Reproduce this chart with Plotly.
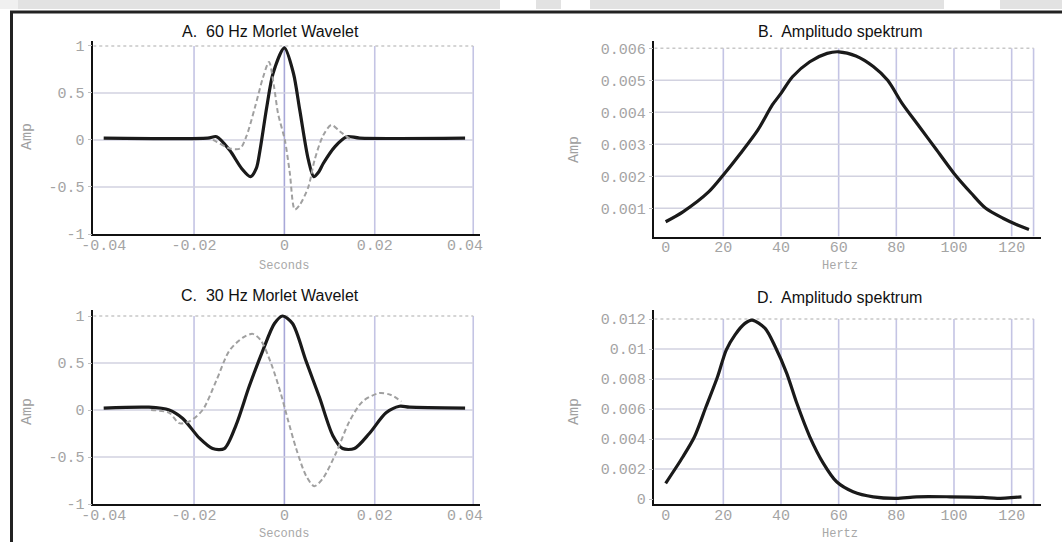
import plotly.graph_objects as go

W, H = 1062, 542

# ---------------- data ----------------
# A: 60 Hz Morlet wavelet (real = solid, imaginary = dashed)
a_real_t = [-0.040, -0.017, -0.0150, -0.0121, -0.0095, -0.0075, -0.0062, -0.0054, -0.0039, -0.0025,
            0.0, 0.0020, 0.0034, 0.0053, 0.0065, 0.0076, 0.0086, 0.0112, 0.0138, 0.0167, 0.040]
a_real_v = [0.02, 0.02, 0.035, -0.11, -0.30, -0.39, -0.30, -0.11, 0.35, 0.71,
            0.98, 0.71, 0.32, -0.21, -0.39, -0.34, -0.25, -0.07, 0.035, 0.02, 0.02]
a_imag_t = [-0.0158, -0.0150, -0.0121, -0.0098, -0.0084, -0.0065, -0.0047, -0.0034, -0.0023, -0.0014,
            0.0001, 0.0012, 0.0023, 0.0034, 0.0053, 0.0067, 0.0086, 0.0104, 0.0123, 0.0148]
a_imag_v = [0.0, -0.02, -0.09, -0.09, 0.04, 0.35, 0.67, 0.83, 0.57, 0.28,
            0.0, -0.35, -0.74, -0.69, -0.50, -0.21, 0.05, 0.16, 0.09, 0.0]

# B: amplitude spectrum of the 60 Hz wavelet
b_hz = [0, 6, 15, 20, 26, 32, 37, 40, 44, 50, 56, 60, 66, 72, 77, 82, 88, 94, 100, 106, 111, 117, 122, 126]
b_amp = [0.00058, 0.00089, 0.00152, 0.00204, 0.00272, 0.00345, 0.00423, 0.00459, 0.00511, 0.00558,
         0.00584, 0.00589, 0.00576, 0.00543, 0.00500, 0.00428, 0.00355, 0.00282, 0.00209, 0.00147,
         0.00100, 0.00069, 0.00048, 0.00034]

# C: 30 Hz Morlet wavelet
c_real_t = [-0.040, -0.030, -0.0255, -0.0225, -0.0188, -0.0159, -0.0133, -0.0107, -0.0078, -0.0048,
            -0.0022, -0.0004, 0.0018, 0.0048, 0.0078, 0.0107, 0.0129, 0.0155, 0.0188, 0.0225,
            0.0255, 0.0277, 0.040]
c_real_v = [0.02, 0.03, 0.0, -0.09, -0.30, -0.41, -0.41, -0.16, 0.25, 0.63,
            0.92, 1.0, 0.92, 0.52, 0.13, -0.27, -0.41, -0.41, -0.25, -0.03,
            0.04, 0.03, 0.02]
c_imag_t = [-0.0295, -0.0255, -0.0233, -0.021, -0.0181, -0.0151, -0.0122, -0.0092, -0.0070, -0.0052,
            -0.0029, -0.0007, 0.0007, 0.0026, 0.0048, 0.0066, 0.0085, 0.0115, 0.0144, 0.0173,
            0.0210, 0.0236, 0.0259]
c_imag_v = [0.0, -0.03, -0.14, -0.12, 0.0, 0.31, 0.63, 0.77, 0.81, 0.74,
            0.49, 0.16, -0.09, -0.41, -0.70, -0.81, -0.73, -0.45, -0.12, 0.09,
            0.18, 0.16, 0.09]

# D: amplitude spectrum of the 30 Hz wavelet
d_hz = [0, 6, 10, 14, 18, 21, 24, 27.5, 30, 34.5, 38, 42, 45.5, 50, 54.7, 59.3, 65, 72, 80, 87,
        98.6, 110, 115, 123.4]
d_amp = [0.00105, 0.00282, 0.00415, 0.00615, 0.00815, 0.00993, 0.01093, 0.01171, 0.01193, 0.01138,
         0.01015, 0.00838, 0.00638, 0.00415, 0.00238, 0.00115, 0.00049, 0.00015, 0.00005, 0.00015,
         0.00015, 0.00011, 0.00005, 0.00015]

# tick labels
sec_ticks = [-0.04, -0.02, 0, 0.02, 0.04]
sec_text = ["-0.04", "-0.02", "0", "0.02", "0.04"]
wav_ticks = [-1, -0.5, 0, 0.5, 1]
wav_text = ["-1", "-0.5", "0", "0.5", "1"]
hz_ticks = [0, 20, 40, 60, 80, 100, 120]
hz_text = ["0", "20", "40", "60", "80", "100", "120"]
b_ticks = [0.001, 0.002, 0.003, 0.004, 0.005, 0.006]
b_text = ["0.001", "0.002", "0.003", "0.004", "0.005", "0.006"]
d_ticks = [0, 0.002, 0.004, 0.006, 0.008, 0.01, 0.012]
d_text = ["0", "0.002", "0.004", "0.006", "0.008", "0.01", "0.012"]

titles = ["A.\u00a0 60 Hz Morlet Wavelet", "B.\u00a0 Amplitudo spektrum",
          "C.\u00a0 30 Hz Morlet Wavelet", "D.\u00a0 Amplitudo spektrum"]

# ---------------- figure ----------------
def fx(p):
    return p / W

def fy(p):
    return 1 - p / H

SOLID = dict(color="#1a1a1a", width=3.2, shape="spline", smoothing=0.8)
DASH = dict(color="#a0a0a0", width=2, dash="5px,3px", shape="spline", smoothing=0.8)

fig = go.Figure()
fig.add_trace(go.Scatter(x=a_real_t, y=a_real_v, mode="lines", line=SOLID, xaxis="x", yaxis="y"))
fig.add_trace(go.Scatter(x=a_imag_t, y=a_imag_v, mode="lines", line=DASH, xaxis="x", yaxis="y"))
fig.add_trace(go.Scatter(x=b_hz, y=b_amp, mode="lines", line=SOLID, xaxis="x2", yaxis="y2"))
fig.add_trace(go.Scatter(x=c_real_t, y=c_real_v, mode="lines", line=SOLID, xaxis="x3", yaxis="y3"))
fig.add_trace(go.Scatter(x=c_imag_t, y=c_imag_v, mode="lines", line=DASH, xaxis="x3", yaxis="y3"))
fig.add_trace(go.Scatter(x=d_hz, y=d_amp, mode="lines", line=SOLID, xaxis="x4", yaxis="y4"))

TICKFONT = dict(family="Liberation Mono, Courier New, monospace", size=15, color="#a4a4a4")

def xax(dom, rng, tv, tt):
    return dict(domain=dom, range=rng, tickvals=tv, ticktext=tt, showgrid=False, zeroline=False,
                showline=True, linecolor="#111", linewidth=1.5, ticks="", tickfont=TICKFONT,
                ticklabelstandoff=-4, fixedrange=True, automargin=False)

def yax(dom, rng, tv, tt, anchor):
    return dict(domain=dom, range=rng, tickvals=tv, ticktext=tt, showgrid=False, zeroline=False,
                showline=True, linecolor="#111", linewidth=1.5, ticks="outside", ticklen=4,
                tickcolor="#c0c0c0", tickfont=TICKFONT, ticklabelstandoff=0, anchor=anchor,
                fixedrange=True, automargin=False)

left_dom = [fx(93.3), fx(480)]
right_dom = [fx(654.4), fx(1040.5)]
top_dom_l = [fy(234), fy(40.6)]
top_dom_r = [fy(236.6), fy(40.6)]
bot_dom = [fy(504), fy(310)]

sec_rng = [-0.0423, 0.0433]
hz_rng = [-3.9, 130]

fig.update_layout(
    width=W, height=H, autosize=False,
    margin=dict(l=0, r=0, t=0, b=0, pad=0, autoexpand=False),
    paper_bgcolor="white", plot_bgcolor="white", showlegend=False,
    xaxis=xax(left_dom, sec_rng, sec_ticks, sec_text) | dict(anchor="y"),
    yaxis=yax(top_dom_l, [-1.0, 1.057], wav_ticks, wav_text, "x"),
    xaxis2=xax(right_dom, hz_rng, hz_ticks, hz_text) | dict(anchor="y2"),
    yaxis2=yax(top_dom_r, [0.000116, 0.00624], b_ticks, b_text, "x2"),
    xaxis3=xax(left_dom, sec_rng, sec_ticks, sec_text) | dict(anchor="y3"),
    yaxis3=yax(bot_dom, [-1.0, 1.064], wav_ticks, wav_text, "x3"),
    xaxis4=xax(right_dom, hz_rng, hz_ticks, hz_text) | dict(anchor="y4"),
    yaxis4=yax(bot_dom, [-0.00033, 0.0126], d_ticks, d_text, "x4"),
)

shapes = []
GRID_V = "#c4c4e4"
GRID_H = "#d2d2e0"

def grid(xr, yr, xs, ys, xmin, xmax, ymin, ymax, zero_x=None):
    for v in xs:
        col = "#a8a8d8" if (zero_x is not None and v == zero_x) else GRID_V
        shapes.append(dict(type="line", xref=xr, yref=yr, x0=v, x1=v, y0=ymin, y1=ymax,
                           line=dict(color=col, width=1.6), layer="below"))
    for v in ys:
        shapes.append(dict(type="line", xref=xr, yref=yr, x0=xmin, x1=xmax, y0=v, y1=v,
                           line=dict(color=GRID_H, width=1.6), layer="below"))
    shapes.append(dict(type="line", xref=xr, yref=yr, x0=xmin, x1=xmax, y0=ymax, y1=ymax,
                       line=dict(color="#c8c8c8", width=1.4, dash="dot"), layer="below"))

grid("x", "y", [-0.02, 0, 0.02, 0.0418], [-0.5, 0, 0.5], -0.0423, 0.0418, -1.0, 1.0, zero_x=0)
grid("x3", "y3", [-0.02, 0, 0.02, 0.0418], [-0.5, 0, 0.5], -0.0423, 0.0418, -1.0, 1.0, zero_x=0)
grid("x2", "y2", [20, 40, 60, 80, 100, 120, 127.6], [0.001, 0.002, 0.003, 0.004, 0.005],
     -3.9, 127.6, 0.000116, 0.006)
grid("x4", "y4", [20, 40, 60, 80, 100, 120, 127.6], [0.002, 0.004, 0.006, 0.008, 0.01],
     -3.9, 127.6, -0.00033, 0.012)

# top faded band and frame
for x0, x1 in [(18, 500), (536, 561), (590, 944), (1000, 1062)]:
    shapes.append(dict(type="rect", xref="paper", yref="paper", x0=fx(x0), x1=fx(x1),
                       y0=fy(9), y1=1, fillcolor="#e2e2e2", line=dict(width=0), layer="below"))
shapes.append(dict(type="rect", xref="paper", yref="paper", x0=0, x1=fx(18), y0=fy(9), y1=1,
                   fillcolor="#f0f0f0", line=dict(width=0), layer="below"))
shapes.append(dict(type="line", xref="paper", yref="paper", x0=fx(10), x1=1.0, y0=fy(12), y1=fy(12),
                   line=dict(color="#222", width=3)))
shapes.append(dict(type="line", xref="paper", yref="paper", x0=fx(11.5), x1=fx(11.5), y0=fy(11), y1=0,
                   line=dict(color="#222", width=3)))
fig.update_layout(shapes=shapes)

ann = []
TITLEFONT = dict(family="Liberation Sans, Arial, sans-serif", size=16, color="#111")
for txt, (cx, cy) in zip(titles, [(270, 31), (840, 31), (270, 295.5), (839, 297)]):
    ann.append(dict(text=txt, x=fx(cx), y=fy(cy), xref="paper", yref="paper", showarrow=False,
                    font=TITLEFONT, xanchor="center", yanchor="middle"))
LABFONT = dict(family="Liberation Mono, Courier New, monospace", size=12, color="#a8a8a8")
for txt, (cx, cy) in [("Seconds", (284, 266)), ("Hertz", (840, 266)),
                      ("Seconds", (284, 534)), ("Hertz", (840, 534))]:
    ann.append(dict(text=txt, x=fx(cx), y=fy(cy), xref="paper", yref="paper", showarrow=False,
                    font=LABFONT, xanchor="center", yanchor="middle", borderpad=0))
AMPFONT = dict(family="Liberation Mono, Courier New, monospace", size=15, color="#a0a0a0")
for cx, cy in [(27, 137), (574, 150), (27, 412), (574, 412)]:
    ann.append(dict(text="Amp", x=fx(cx), y=fy(cy), xref="paper", yref="paper", showarrow=False,
                    font=AMPFONT, textangle=-90, xanchor="center", yanchor="middle"))
fig.update_layout(annotations=ann)

fig.write_html("out.html")
